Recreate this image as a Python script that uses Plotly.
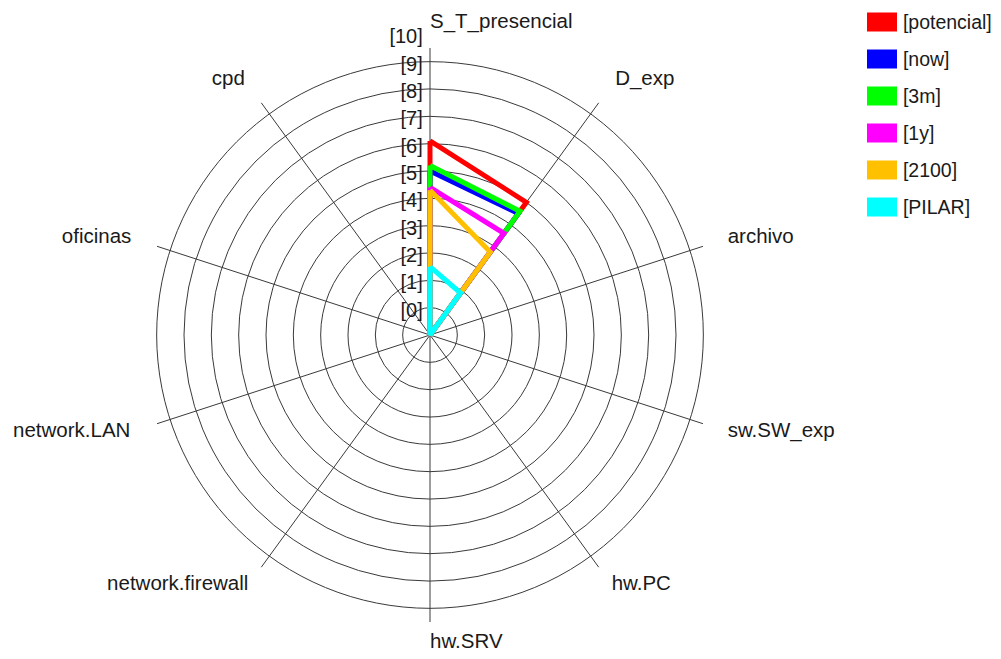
import math
import plotly.graph_objects as go

categories = ["S_T_presencial", "D_exp", "archivo", "sw.SW_exp", "hw.PC",
              "hw.SRV", "network.firewall", "network.LAN", "oficinas", "cpd"]

# -1 = no level (drawn at the centre of the web)
series_names = ["[potencial]", "[now]", "[3m]", "[1y]", "[2100]", "[PILAR]"]
potencial = [6.1, 5.0, -1, -1, -1, -1, -1, -1, -1, -1]
now = [5.0, 4.5, -1, -1, -1, -1, -1, -1, -1, -1]
m3 = [5.2, 4.6, -1, -1, -1, -1, -1, -1, -1, -1]
y1 = [4.4, 3.6, -1, -1, -1, -1, -1, -1, -1, -1]
y2100 = [4.3, 2.75, -1, -1, -1, -1, -1, -1, -1, -1]
pilar = [1.5, 0.9, -1, -1, -1, -1, -1, -1, -1, -1]

level_values = [0, 1, 2, 3, 4, 5, 6, 7, 8, 9, 10]
level_labels = ["[%d]" % v for v in level_values]

series = [potencial, now, m3, y1, y2100, pilar]
colors = ["#ff0000", "#0000ff", "#00ff00", "#ff00ff", "#ffc000", "#00ffff"]

FONT = "Liberation Sans, Arial, sans-serif"
FS = 20
FS_LEG = 19.5
FS_CAT = 20.5
TXT = "#1a1a1a"
GRID = "#3a3a3a"

# page body has an 8px margin, so the figure is 16px smaller than the window
W, H = 985, 643
cx, cy, R = 422, 327, 287          # web centre / radius in figure pixels
RMIN, RMAX = -1, 9.5               # radial range of the web
PX_PER_UNIT = R / (RMAX - RMIN)
R_LBL = min(cx, W - cx, cy, H - cy)            # label layer radius (px)
RMAX_LBL = R_LBL / PX_PER_UNIT + RMIN
# distance (px) of each category label anchor from the centre
label_px = [302, 315, 313, 313, 309, 298, 309, 315, 314, 315]
LEVEL_DY = 4 / PX_PER_UNIT         # level labels sit slightly below their ring

fig = go.Figure()

for name, vals, col in zip(series_names, series, colors):
    fig.add_trace(go.Scatterpolar(
        r=vals + vals[:1], theta=categories + categories[:1],
        mode="lines", line=dict(color=col, width=5),
        name=name, showlegend=False, hoverinfo="skip", subplot="polar"))

# level labels along the first axis
fig.add_trace(go.Scatterpolar(
    r=[v - LEVEL_DY for v in level_values],
    theta=[categories[0]] * len(level_values),
    mode="markers+text", text=level_labels, textposition="middle left",
    marker=dict(size=10, opacity=0),
    textfont=dict(family=FONT, size=FS, color=TXT),
    cliponaxis=False, showlegend=False, hoverinfo="skip", subplot="polar2"))

# category labels
n = len(categories)
positions = []
for i in range(n):
    a = 2 * math.pi * i / n
    s, c = math.sin(a), math.cos(a)
    v = "top" if c > 0.9 else ("bottom" if c < -0.9 else "middle")
    h = "left" if s < -0.1 else "right"
    positions.append(v + " " + h)

fig.add_trace(go.Scatterpolar(
    r=[min(p, R_LBL - 0.5) / PX_PER_UNIT + RMIN for p in label_px],
    theta=categories,
    mode="text", text=categories, textposition=positions,
    textfont=dict(family=FONT, size=FS_CAT, color=TXT),
    cliponaxis=False, showlegend=False, hoverinfo="skip", subplot="polar2"))

# legend: one swatch per series
fig.add_trace(go.Bar(
    x=[1] * len(series_names), y=series_names, orientation="h",
    marker=dict(color=colors, line=dict(width=0)),
    width=19 / 37, showlegend=False, hoverinfo="skip",
    xaxis="x", yaxis="y"))

hidden_axis = dict(showticklabels=False, ticks="", showline=False, showgrid=False)

fig.update_layout(
    width=W, height=H,
    margin=dict(l=0, r=0, t=0, b=0),
    paper_bgcolor="white",
    plot_bgcolor="rgba(0,0,0,0)",
    font=dict(family=FONT, size=FS, color=TXT),
    polar=dict(
        domain=dict(x=[(cx - R) / W, (cx + R) / W],
                    y=[(H - cy - R) / H, (H - cy + R) / H]),
        bgcolor="white",
        angularaxis=dict(direction="clockwise", rotation=90,
                         categoryorder="array", categoryarray=categories,
                         showticklabels=False, ticks="", showline=False,
                         gridcolor=GRID, gridwidth=1.4),
        radialaxis=dict(range=[RMIN, RMAX], tickvals=level_values[:-1],
                        showticklabels=False, ticks="", showline=False,
                        gridcolor=GRID, gridwidth=1.4),
    ),
    polar2=dict(
        domain=dict(x=[(cx - R_LBL) / W, (cx + R_LBL) / W],
                    y=[(H - cy - R_LBL) / H, (H - cy + R_LBL) / H]),
        bgcolor="rgba(0,0,0,0)",
        angularaxis=dict(direction="clockwise", rotation=90,
                         categoryorder="array", categoryarray=categories,
                         **hidden_axis),
        radialaxis=dict(range=[RMIN, RMAX_LBL], **hidden_axis),
    ),
    xaxis=dict(domain=[859 / W, 889 / W], range=[0, 1], fixedrange=True,
               **hidden_axis, zeroline=False),
    yaxis=dict(domain=[(H - 217.5) / H, 1.0], range=[5.5, -0.378],
               side="right", anchor="x", showgrid=False, showline=False,
               zeroline=False, ticks="outside", ticklen=1,
               tickcolor="rgba(0,0,0,0)",
               tickfont=dict(family=FONT, size=FS_LEG, color=TXT)),
    showlegend=False,
)

fig.write_html("out.html")
